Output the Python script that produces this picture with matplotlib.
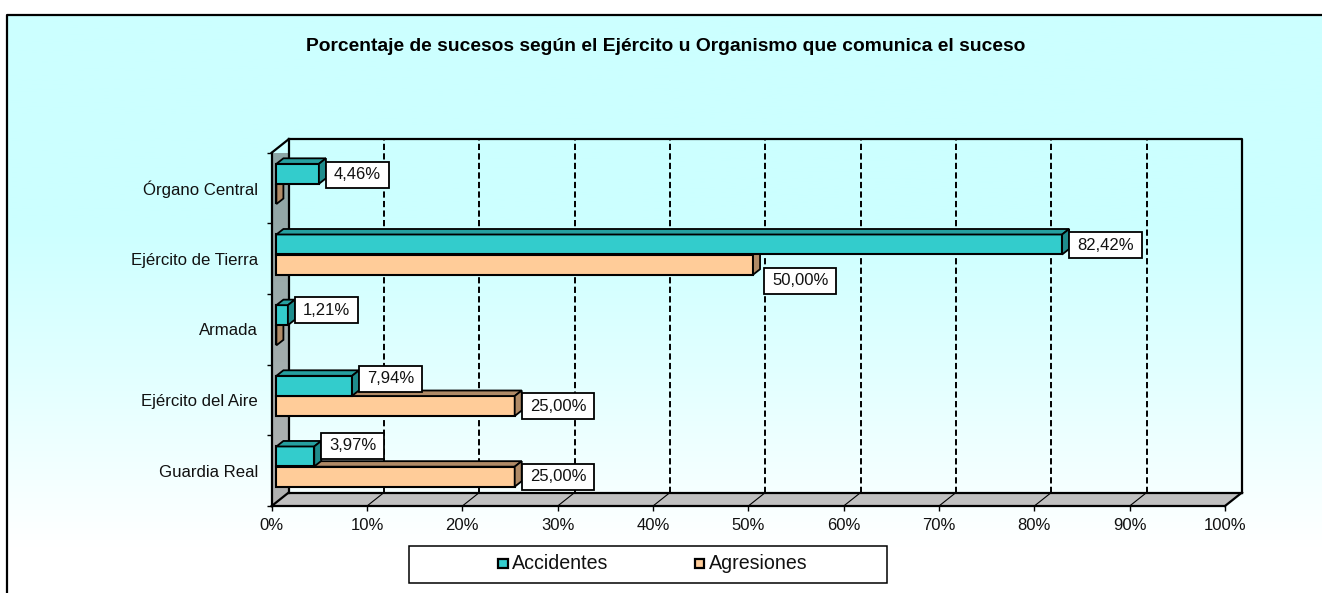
import numpy as np
import matplotlib
matplotlib.use("Agg")
import matplotlib.pyplot as plt
from matplotlib.patches import Polygon, Rectangle
from matplotlib.path import Path
from matplotlib.colors import LinearSegmentedColormap

plt.rcParams['font.family'] = ['Liberation Sans', 'DejaVu Sans']

title = "Porcentaje de sucesos según el Ejército u Organismo que comunica el suceso"
categories = ["Guardia Real", "Ejército del Aire", "Armada", "Ejército de Tierra", "Órgano Central"]
accidentes = [3.97, 7.94, 1.21, 82.42, 4.46]
agresiones = [25.0, 25.0, 0.0, 50.0, 0.0]
x_ticks = list(range(0, 101, 10))
series_names = ["Accidentes", "Agresiones"]

W, H = 1322, 593
fig = plt.figure(figsize=(W / 100, H / 100), dpi=100, facecolor="white")

# background axes in pixel coordinates
bg = fig.add_axes([0, 0, 1, 1], zorder=0)
bg.set_xlim(0, W); bg.set_ylim(H, 0); bg.axis("off")
cm = LinearSegmentedColormap.from_list("bgc", [(0, "#CCFFFF"), (0.36, "#CCFFFF"), (0.62, "#E2FFFF"),
                                               (0.92, "#FFFFFF"), (1, "#FFFFFF")])
bg.imshow(np.linspace(0, 1, 256)[:, None], extent=(7, W, H, 15), cmap=cm, aspect="auto", zorder=0)
bg.set_xlim(0, W); bg.set_ylim(H, 0)
bg.plot([6.5, 6.5, W], [H, 14.5, 14.5], color="black", lw=1.6, zorder=1, solid_capstyle="butt")

# plot axes = front plane of the 3-D box
X0, X1, Y0, Y1 = 271.7, 1225.0, 152.7, 506.0
ax = fig.add_axes([X0 / W, 1 - Y1 / H, (X1 - X0) / W, (Y1 - Y0) / H], zorder=2)
ax.patch.set_alpha(0)
ax.set_xlim(0, 100)
ax.set_ylim(-0.5, 4.5)
px_x = 100 / (X1 - X0)
px_y = 5 / (Y1 - Y0)
DX, DY = 17 * px_x, 13.5 * px_y      # depth of the box
BX, BY = 7 * px_x, 5.5 * px_y        # depth of a bar
ORIGIN = 4.7 * px_x
H_BAR = 20 * px_y
S_AC, S_AG = 14.2 * px_y, -6 * px_y

ymin, ymax = -0.5, 4.5
# walls
wall_grad = LinearSegmentedColormap.from_list("w", ["#8CA5A5", "#B2B2B2"])
wall = Polygon([(0, ymin), (DX, ymin + DY), (DX, ymax + DY), (0, ymax)], closed=True,
               facecolor="none", edgecolor="none", clip_on=False)
ax.add_patch(wall)
im = ax.imshow(np.linspace(0, 1, 64)[:, None], extent=(0, DX, ymin, ymax + DY), cmap=wall_grad,
               aspect="auto", zorder=1, origin="upper", clip_on=True)
im.set_clip_path(wall)
ax.set_xlim(0, 100); ax.set_ylim(ymin, ymax)
ax.add_patch(Polygon([(0, ymin), (100, ymin), (100 + DX, ymin + DY), (DX, ymin + DY)], closed=True,
                     facecolor="#C0C0C0", edgecolor="none", clip_on=False, zorder=1))

# back-wall grid and floor diagonals
for t in x_ticks[1:-1]:
    ax.plot([t + DX, t + DX], [ymin + DY, ymax + DY], color="black", lw=1.4, ls=(0, (3.2, 1.7)),
            clip_on=False, zorder=1.5)
    ax.plot([t, t + DX], [ymin, ymin + DY], color="black", lw=0.8, clip_on=False, zorder=1.5)

# box outline
LW = 1.6
for xs, ys in [([DX, 100 + DX, 100 + DX], [ymax + DY, ymax + DY, ymin + DY]),
               ([DX, 100 + DX], [ymin + DY, ymin + DY]),
               ([DX, DX], [ymin + DY, ymax + DY]),
               ([0, DX], [ymax, ymax + DY]),
               ([0, DX], [ymin, ymin + DY]),
               ([100, 100 + DX], [ymin, ymin + DY])]:
    ax.plot(xs, ys, color="black", lw=LW, clip_on=False, zorder=1.6)


def bars(vals, shift, front, top, side, z):
    y = np.arange(len(vals)) + shift
    ax.barh(y, vals, height=H_BAR, left=ORIGIN, color=front, edgecolor="black", lw=1.5,
            zorder=z, clip_on=False)
    for v, c in zip(vals, y):
        r = ORIGIN + v
        t, b = c + H_BAR / 2, c - H_BAR / 2
        ax.add_patch(Polygon([(ORIGIN, t), (r, t), (r + BX, t + BY), (ORIGIN + BX, t + BY)], closed=True,
                             facecolor=top, edgecolor="black", lw=1.3, clip_on=False, zorder=z))
        ax.add_patch(Polygon([(r, b), (r, t), (r + BX, t + BY), (r + BX, b + BY)], closed=True,
                             facecolor=side, edgecolor="black", lw=1.3, clip_on=False, zorder=z))


bars(agresiones, S_AG, "#FFCC99", "#B08A66", "#B08A66", 3)
bars(accidentes, S_AC, "#33CCCC", "#26A0A0", "#1F8C8C", 4)

# spines and ticks
for s in ("top", "right"):
    ax.spines[s].set_visible(False)
for s in ("left", "bottom"):
    ax.spines[s].set_linewidth(LW)
    ax.spines[s].set_zorder(5)
ax.set_xticks(x_ticks, [f"{t}%" for t in x_ticks])
ax.set_yticks(np.arange(len(categories)), categories)
ax.set_yticks(np.arange(-0.5, 5, 1), minor=True)
ax.tick_params(axis="y", which="major", length=0, pad=9.8, labelsize=12.1, colors="#111111")
ax.tick_params(axis="y", which="minor", length=3.5, width=1, color="black")
ax.tick_params(axis="x", length=3.5, width=1, pad=5, labelsize=12, colors="#111111", color="black")


# data labels (offset in pixels from bar end / bar centre)
def label_box(x0, y0, w, h, mutation_size):
    px, py = 8.0, 5.5
    return Path([(x0 - px, y0 - py), (x0 + w + px, y0 - py), (x0 + w + px, y0 + h + py),
                 (x0 - px, y0 + h + py), (x0 - px, y0 - py)], closed=True)


box = dict(boxstyle=label_box, fc="white", ec="black", lw=1.3)


def lab(v, shift, i, ox, oy):
    ax.annotate(f"{v:.2f}%".replace(".", ","), (ORIGIN + v, i + shift), xytext=(ox, oy),
                textcoords="offset pixels", ha="left", va="center", fontsize=12, color="#111111",
                bbox=box, zorder=6, annotation_clip=False)


LX = 15
for i, v in enumerate(accidentes):
    lab(v, S_AC, i, LX, {0: 10.5, 1: 7, 2: 5, 3: -1, 4: -1}[i])
for i, v in enumerate(agresiones):
    if v > 0:
        lab(v, S_AG, i, LX + {0: 0, 1: 0, 3: 4}[i], {0: 0, 1: 0, 3: -16}[i])

# title
bg.text(666, 46.5, title, ha="center", va="center", fontsize=13.9, fontweight="bold", color="black")

# legend
bg.add_patch(Rectangle((409, 545.5), 478, 37, fc="white", ec="black", lw=1.1, zorder=2))
for mx, tx, c, name in [(503, 512, "#33CCCC", series_names[0]), (699.5, 708.5, "#FFCC99", series_names[1])]:
    bg.add_patch(Rectangle((mx - 4.7, 559), 9.4, 9.4, fc=c, ec="black", lw=1.6, zorder=3))
    bg.text(tx, 563.5, name, ha="left", va="center", fontsize=14.1, color="#111111", zorder=3)

fig.savefig("out.png", dpi=100)
